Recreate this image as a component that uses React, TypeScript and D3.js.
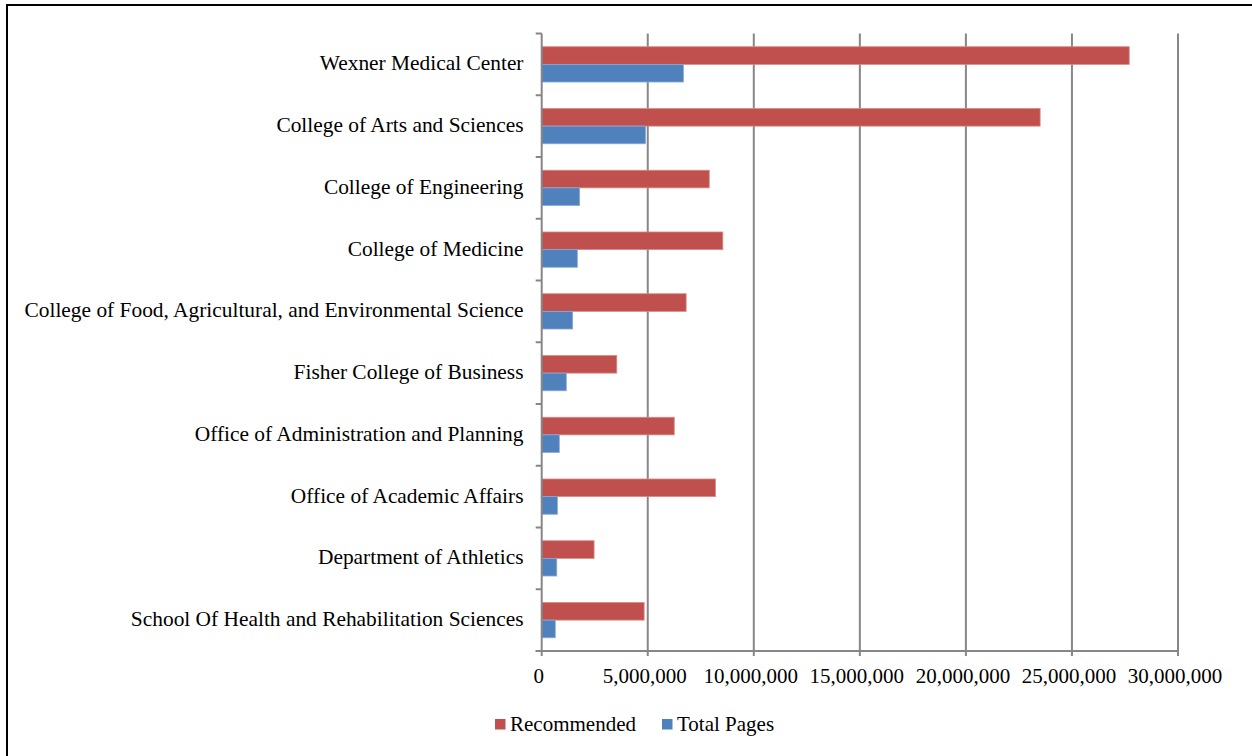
import React from "react";
import * as d3 from "d3";

const categories = [
  "Wexner Medical Center",
  "College of Arts and Sciences",
  "College of Engineering",
  "College of Medicine",
  "College of Food, Agricultural, and Environmental Science",
  "Fisher College of Business",
  "Office of Administration and Planning",
  "Office of Academic Affairs",
  "Department of Athletics",
  "School Of Health and Rehabilitation Sciences",
];
const recommended = [27700000, 23500000, 7900000, 8540000, 6810000, 3540000, 6250000, 8190000, 2470000, 4830000];
const totalPages = [6680000, 4890000, 1790000, 1680000, 1460000, 1160000, 830000, 740000, 710000, 640000];
const xTicks = [0, 5000000, 10000000, 15000000, 20000000, 25000000, 30000000];
const seriesNames = ["Recommended", "Total Pages"];
const seriesColors = ["#C0504D", "#4F81BD"];
const seriesStroke = ["#D68B89", "#8BA9D6"];

const W = 1252;
const H = 756;
const left = 541.7;
const right = 1178;
const top = 33.5;
const bottom = 651;
const FONT = "'Liberation Serif', 'Times New Roman', serif";

export default function App() {
  const x = d3.scaleLinear().domain([0, 30000000]).range([left, right]);
  const y = d3.scaleBand<string>().domain(categories).range([top, bottom]).paddingInner(0).paddingOuter(0);
  const bw = y.bandwidth();
  const groupH = bw / 1.75;
  const barH = groupH / 2;
  const fmt = d3.format(",");
  const series = [recommended, totalPages];

  return (
    <svg width={W} height={H} style={{ position: "absolute", left: 0, top: 0, background: "#fff" }} fontFamily={FONT}>
      <rect x={0} y={0} width={W} height={H} fill="#fff" />
      <rect x={7} y={5} width={1252} height={780} fill="none" stroke="#000" strokeWidth={2} />
      {xTicks.slice(1).map((t) => (
        <line key={t} x1={x(t)} x2={x(t)} y1={top} y2={bottom} stroke="#878787" strokeWidth={2} />
      ))}
      {series.map((vals, si) =>
        vals.map((v, i) => {
          const y0 = (y(categories[i]) as number) + (bw - groupH) / 2 + si * barH;
          return (
            <rect
              key={si + "-" + i}
              x={x(0)}
              y={y0}
              width={x(v) - x(0)}
              height={barH}
              fill={seriesColors[si]}
              stroke={seriesStroke[si]}
              strokeWidth={0.8}
            />
          );
        })
      )}
      <line x1={left} x2={left} y1={top} y2={bottom} stroke="#868686" strokeWidth={2} />
      {categories.map((c, i) => (
        <line key={"yt" + i} x1={left - 6} x2={left} y1={y(c) as number} y2={y(c) as number} stroke="#868686" strokeWidth={2} />
      ))}
      <line x1={left - 6} x2={left} y1={bottom} y2={bottom} stroke="#868686" strokeWidth={2} />
      {categories.map((c) => (
        <text
          key={"yl" + c}
          x={523.5}
          y={(y(c) as number) + bw / 2 + 6}
          textAnchor="end"
          fontSize={21.4}
          fill="#000"
        >
          {c}
        </text>
      ))}
      <line x1={left - 6} x2={right + 1} y1={bottom} y2={bottom} stroke="#868686" strokeWidth={2} />
      {xTicks.map((t) => (
        <line key={"xt" + t} x1={x(t)} x2={x(t)} y1={bottom} y2={bottom + 5} stroke="#868686" strokeWidth={2} />
      ))}
      {xTicks.map((t) => (
        <text key={"xl" + t} x={x(t) - 3} y={683.3} textAnchor="middle" fontSize={21} fill="#000">
          {fmt(t)}
        </text>
      ))}
      <rect x={495} y={719} width={10.5} height={10.5} fill={seriesColors[0]} />
      <text x={510} y={730.7} fontSize={21} fill="#000">{seriesNames[0]}</text>
      <rect x={662} y={719} width={10.5} height={10.5} fill={seriesColors[1]} />
      <text x={677} y={730.7} fontSize={21} fill="#000">{seriesNames[1]}</text>
    </svg>
  );
}
